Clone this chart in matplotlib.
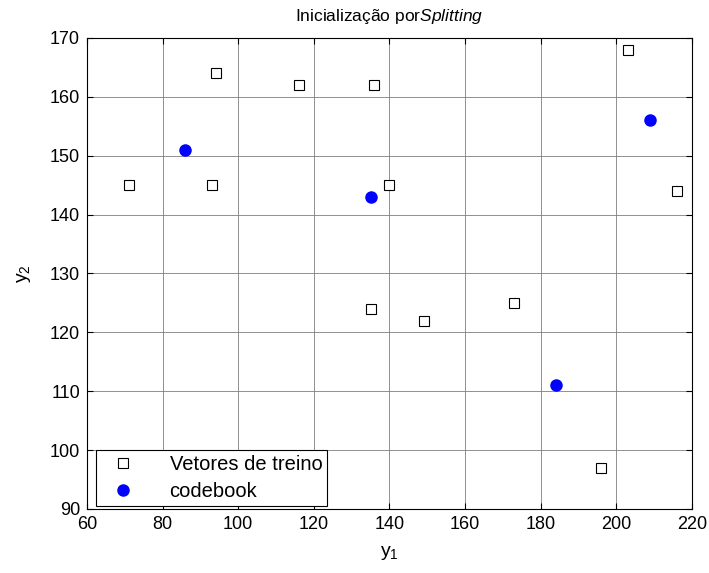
import matplotlib
matplotlib.use('Agg')
import matplotlib.pyplot as plt

# Dados
treino_y1 = [71, 93, 94, 116, 136, 140, 135, 149, 173, 196, 203, 216]
treino_y2 = [145, 145, 164, 162, 162, 145, 124, 122, 125, 97, 168, 144]
code_y1 = [86, 135, 184, 209]
code_y2 = [151, 143, 111, 156]
xticks = [60, 80, 100, 120, 140, 160, 180, 200, 220]
yticks = [90, 100, 110, 120, 130, 140, 150, 160, 170]

plt.rcParams['font.family'] = ['Liberation Sans', 'DejaVu Sans']
plt.rcParams['mathtext.fontset'] = 'custom'
plt.rcParams['mathtext.rm'] = 'Liberation Sans'
plt.rcParams['mathtext.it'] = 'Liberation Sans:italic'

fig = plt.figure(figsize=(7.09, 5.73), dpi=100)
ax = fig.add_axes([0.1227, 0.1117, 0.8533, 0.822])

ax.plot(treino_y1, treino_y2, linestyle='none', marker='s', markersize=6.5,
        markerfacecolor='white', markeredgecolor='black', markeredgewidth=0.8,
        label='Vetores de treino')
ax.plot(code_y1, code_y2, linestyle='none', marker='o', markersize=8,
        markerfacecolor='blue', markeredgecolor='blue', label='codebook')

ax.set_xlim(60, 220)
ax.set_ylim(90, 170)
ax.set_xticks(xticks)
ax.set_yticks(yticks)
ax.grid(True, color='#7f7f7f', linewidth=0.6)
ax.set_axisbelow(True)
ax.tick_params(direction='in', top=True, right=True, labelsize=13, length=4,
               pad=5)
for s in ax.spines.values():
    s.set_linewidth(0.8)

ax.set_xlabel(r'$\mathregular{y_1}$', fontsize=14, labelpad=8)
ax.set_ylabel(r'$\mathregular{y_2}$', fontsize=14, labelpad=12)
ax.set_title(r'Inicialização por$\mathit{Splitting}$', fontsize=12.5, pad=12)

leg = ax.legend(loc='lower left', bbox_to_anchor=(9 / 605, 3 / 471),
                borderaxespad=0, fontsize=14.5, fancybox=False, framealpha=1,
                edgecolor='black', borderpad=0.25, handletextpad=1.2,
                handlelength=2.2, labelspacing=0.4)
leg.get_frame().set_linewidth(0.8)

plt.savefig('out.png', dpi=100, facecolor='white')
plt.close()
